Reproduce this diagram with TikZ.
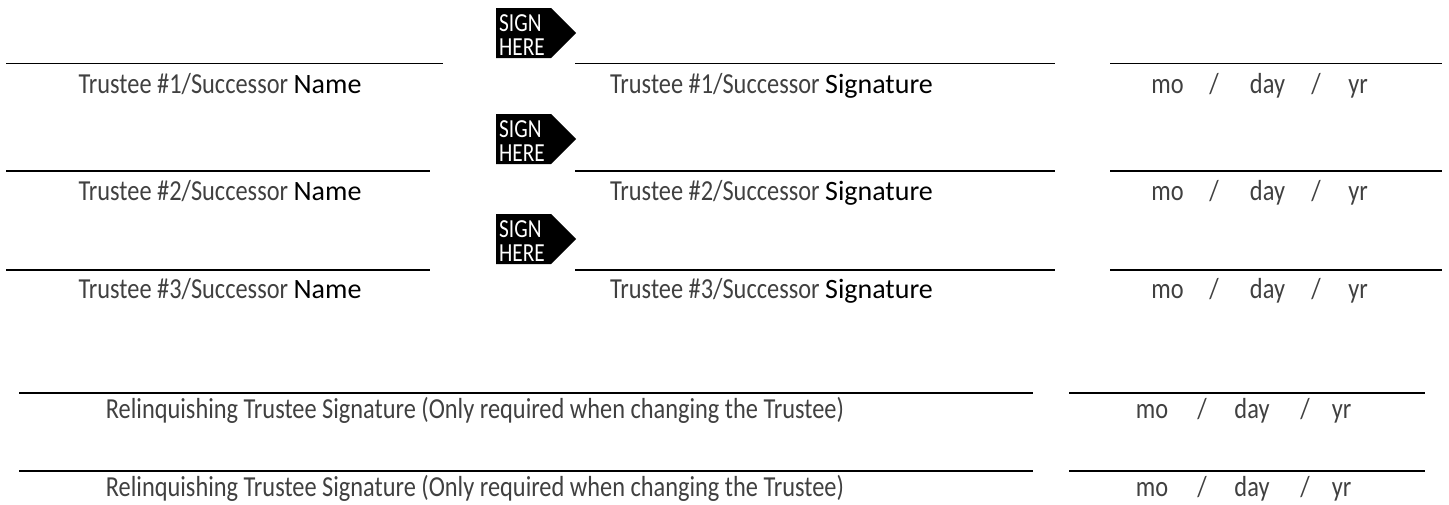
\documentclass[tikz,border=0pt]{standalone}
\usepackage{fontspec}
\newfontfamily\lightf[FakeStretch=0.84]{Carlito}
\newfontfamily\regf{Carlito}
\newfontfamily\signf[FakeStretch=0.82]{Carlito}
\definecolor{txtgray}{HTML}{404040}
\begin{document}
\begin{tikzpicture}[x=1pt,y=-1pt,
  ruleline/.style={line width=1.6pt,black},
  bigline/.style={line width=2.2pt,black},
  lbl/.style={anchor=base,inner sep=0pt,text=txtgray,font=\lightf\fontsize{29}{32}\selectfont},
  signbox/.style={fill=black},
  signtext/.style={anchor=base west,inner sep=0pt,text=white,font=\signf\fontsize{26}{26}\selectfont}]
\useasboundingbox (0,0) rectangle (1449,504);
% ---------- three trustee rows ----------
\foreach \i/\ly/\by/\bt/\ne in {1/63.5/93/8/443, 2/170.7/200/114/430, 3/270/298/214/430}{
  \coordinate (nl\i a) at (6,\ly);
  \coordinate (nl\i b) at (\ne,\ly);
  \draw[ruleline] (nl\i a) -- (nl\i b);
  \coordinate (sl\i a) at (575,\ly);
  \coordinate (sl\i b) at (1055,\ly);
  \draw[ruleline] (sl\i a) -- (sl\i b);
  \coordinate (dl\i a) at (1110,\ly);
  \coordinate (dl\i b) at (1442,\ly);
  \draw[ruleline] (dl\i a) -- (dl\i b);
  \fill[signbox] (496,\bt) -- (551,\bt) -- (576,\bt+25) -- (551,\bt+50) -- (496,\bt+50) -- cycle;
  \node[signtext] (signa\i) at (499,\bt+23.5) {SIGN};
  \node[signtext] (signb\i) at (499,\bt+47) {HERE};
  \node[lbl] (name\i) at (220,\by) {Trustee \#\i/Successor {\regf\fontsize{28}{32}\selectfont\color{black}Name}};
  \node[lbl] (sig\i) at (771.5,\by) {Trustee \#\i/Successor {\regf\fontsize{28}{32}\selectfont\color{black}Signature}};
  \node[lbl] (mo\i) at (1167.5,\by) {mo};
  \node[lbl] (sa\i) at (1214,\by) {/};
  \node[lbl] (day\i) at (1267.5,\by) {day};
  \node[lbl] (sb\i) at (1316,\by) {/};
  \node[lbl] (yr\i) at (1358,\by) {yr};
}
% ---------- relinquishing rows ----------
\foreach \j/\ly/\by in {1/392.7/418, 2/470.7/496}{
  \coordinate (rl\j a) at (19,\ly);
  \coordinate (rl\j b) at (1033,\ly);
  \draw[bigline] (rl\j a) -- (rl\j b);
  \coordinate (rd\j a) at (1069,\ly);
  \coordinate (rd\j b) at (1425,\ly);
  \draw[bigline] (rd\j a) -- (rd\j b);
  \node[lbl] (rel\j) at (475,\by) {Relinquishing Trustee Signature (Only required when changing the Trustee)};
  \node[lbl] (rmo\j) at (1152,\by) {mo};
  \node[lbl] (rsa\j) at (1202,\by) {/};
  \node[lbl] (rday\j) at (1252,\by) {day};
  \node[lbl] (rsb\j) at (1305,\by) {/};
  \node[lbl] (ryr\j) at (1341.5,\by) {yr};
}
\end{tikzpicture}
\end{document}
